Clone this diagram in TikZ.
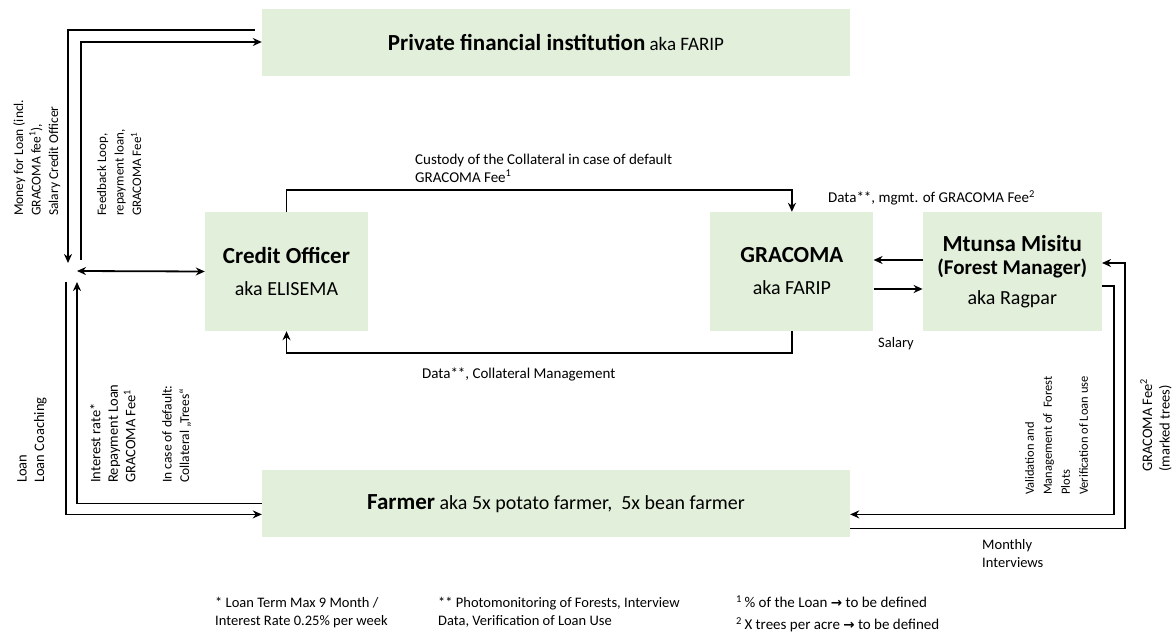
\documentclass[tikz,border=0pt]{standalone}
\usepackage{fontspec}
\setmainfont{Carlito}
\newfontfamily\symbolfont{DejaVu Sans}
\usepackage{tikz}
\usetikzlibrary{arrows.meta, positioning, calc}
\definecolor{boxgreen}{RGB}{226,239,218}
\tikzset{
    actor/.style={rectangle, fill=boxgreen, text centered, align=center, inner sep=0pt},
    widebox/.style={actor, minimum width=588pt, minimum height=67pt},
    actorbox/.style={actor, minimum height=119pt, font=\fontsize{20}{24}\selectfont},
    arrow/.style={-{Stealth[length=9pt,width=8pt]}, line width=1.8pt},
    dblarrow/.style={{Stealth[length=9pt,width=8pt]}-{Stealth[length=9pt,width=8pt]}, line width=1.8pt},
}
\newcommand{\boxtitle}[1]{\textbf{\fontsize{23}{26}\selectfont #1}}
\newcommand{\rarr}{{\symbolfont\bfseries\fontsize{13.5}{18}\selectfont →}}

\begin{document}
\begin{tikzpicture}[
        x=1pt, y=-1pt,
        flow/.style={font=\fontsize{14.5}{17.5}\selectfont, align=left, inner sep=0pt},
        small/.style={font=\fontsize{13}{17.5}\selectfont},
        sidelabel/.style={flow, rotate=90, anchor=north west},
        note/.style={flow, anchor=west}
    ]
        \useasboundingbox (0,0) rectangle (1175,634);

        % Nodes
        \node[widebox, font=\fontsize{19}{22}\selectfont] (pfi) at (556,42.5) {\boxtitle{Private financial institution} aka FARIP};
        \node[actorbox, minimum width=163pt] (credit) at (286.5,271.5) {\boxtitle{Credit Officer}\\[8pt] aka ELISEMA};
        \node[actorbox, minimum width=163pt, right=342pt of credit] (gracoma) {\boxtitle{GRACOMA}\\[8pt] aka FARIP};
        \node[actorbox, minimum width=179pt, right=49pt of gracoma] (mtunsa) {\boxtitle{Mtunsa Misitu}\\[-1pt] \textbf{\fontsize{21}{24}\selectfont (Forest Manager)}\\[6pt] aka Ragpar};
        \node[widebox, below=394pt of pfi, font=\fontsize{20}{24}\selectfont] (farmer) {\boxtitle{Farmer} aka 5x potato farmer,\ \ 5x bean farmer};

        \coordinate (hub) at (72,271);

        % Labels
        \node[sidelabel, font=\fontsize{13.5}{17.5}\selectfont] (money) at (13,216) {Money for Loan (incl.\\ GRACOMA fee\textsuperscript{1}),\\ Salary Credit Officer};
        \node[sidelabel, small] (feedback) at (97,216) {Feedback Loop,\\ repayment loan,\\ GRACOMA Fee\textsuperscript{1}};
        \node[sidelabel] (loan) at (17,483) {Loan\\ Loan Coaching};
        \node[sidelabel] (interest) at (90,483) {Interest rate*\\ Repayment Loan\\ GRACOMA Fee\textsuperscript{1}};
        \node[sidelabel, font=\fontsize{13.5}{17.5}\selectfont] (default) at (162,483) {In case of default:\\ Collateral „Trees“};
        \node[note, font=\fontsize{15}{18}\selectfont] (custody) at (415,168) {Custody of the Collateral in case of default\\ GRACOMA Fee\textsuperscript{1}};
        \node[note, font=\fontsize{15}{18}\selectfont] (collat) at (422,374) {Data**, Collateral Management};
        \node[note, font=\fontsize{15}{18}\selectfont] (mgmt) at (828,198) {Data**, mgmt. of GRACOMA Fee\textsuperscript{2}};
        \node[note] (salary) at (878,344) {Salary};
        \node[sidelabel, font=\fontsize{12.5}{18}\selectfont] (validation) at (1025,495) {Validation and\\ Management of\ \ Forest\\ Plots\\ Verification of Loan use};
        \node[sidelabel] (gracfee) at (1140,472) {GRACOMA Fee\textsuperscript{2}\\ (marked trees)};
        \node[note, font=\fontsize{14.5}{18}\selectfont] (monthly) at (982,554) {Monthly\\ Interviews};

        % Footnotes
        \node[note] (fnone) at (215,612.5) {* Loan Term Max 9 Month /\\ Interest Rate 0.25\% per week};
        \node[note] (fntwo) at (438,612.5) {** Photomonitoring of Forests, Interview\\ Data, Verification of Loan Use};
        \node[note, font=\fontsize{15}{18}\selectfont] (fnthree) at (736,614) {\textsuperscript{1}\,\% of the Loan \rarr{} to be defined\\[4pt] \textsuperscript{2}\,X trees per acre \rarr{} to be defined};

        % Connections
        \draw[arrow] ([xshift=-7pt,yshift=12.5pt]pfi.west) -| ([shift={(-4,-8)}]hub);
        \draw[arrow] ([shift={(9,-11)}]hub) |- ([yshift=0.5pt]pfi.west);
        \draw[dblarrow] ([xshift=5pt]hub) -- (credit.west);
        \draw[arrow] ([shift={(-6,11)}]hub) |- ([yshift=-10.5pt]farmer.west);
        \draw[arrow] ([yshift=0.5pt]farmer.west) -| ([shift={(5,11)}]hub);

        \draw[arrow] (credit.north) -- ++(0,-22) -| (gracoma.north);
        \draw[arrow] (gracoma.south) -- ++(0,22) -| (credit.south);

        \draw[arrow] ([yshift=11.5pt]mtunsa.west) -- ([yshift=11.5pt]gracoma.east);
        \draw[arrow] ([yshift=-17.5pt]gracoma.east) -- ([yshift=-17.5pt]mtunsa.west);

        \draw[arrow] ([yshift=-14.5pt]mtunsa.east) -- ++(12,0) |- ([yshift=-10.5pt]farmer.east);
        \draw[arrow] ([yshift=-24.5pt]farmer.east) -- ++(275,0) |- ([yshift=8.5pt]mtunsa.east);
    \end{tikzpicture}
\end{document}
